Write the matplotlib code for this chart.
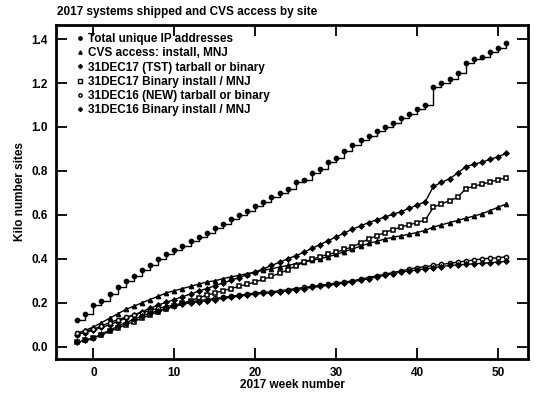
# 2017 systems shipped and CVS access by site
import numpy as np
import matplotlib.pyplot as plt
from matplotlib.lines import Line2D

plt.rcParams['font.family'] = ['Liberation Sans', 'DejaVu Sans']
plt.rcParams['font.weight'] = 'bold'

# Week numbers (-2 .. 51)
weeks = list(range(-2, 52))

# Values (kilo sites)
total_ip = [0.12, 0.15, 0.19, 0.21, 0.24, 0.27, 0.30, 0.32, 0.35, 0.37,
            0.40, 0.42, 0.44, 0.46, 0.48, 0.50, 0.52, 0.54, 0.56, 0.58,
            0.60, 0.62, 0.64, 0.66, 0.68, 0.70, 0.72, 0.75, 0.76, 0.79,
            0.81, 0.84, 0.86, 0.89, 0.92, 0.94, 0.96, 0.98, 1.00, 1.02,
            1.04, 1.06, 1.08, 1.10, 1.18, 1.20, 1.22, 1.245, 1.29, 1.31,
            1.32, 1.34, 1.36, 1.38]
cvs_access = [0.06, 0.075, 0.09, 0.11, 0.13, 0.15, 0.17, 0.185, 0.20, 0.215,
              0.23, 0.245, 0.255, 0.265, 0.275, 0.285, 0.295, 0.30, 0.31, 0.318,
              0.325, 0.333, 0.34, 0.348, 0.355, 0.363, 0.37, 0.378, 0.385, 0.393,
              0.40, 0.41, 0.42, 0.433, 0.445, 0.458, 0.47, 0.48, 0.49, 0.498,
              0.505, 0.512, 0.52, 0.53, 0.545, 0.555, 0.565, 0.575, 0.585, 0.595,
              0.605, 0.62, 0.635, 0.65]
tst_17 = [0.055, 0.065, 0.075, 0.088, 0.10, 0.115, 0.13, 0.145, 0.16, 0.175,
          0.19, 0.203, 0.215, 0.228, 0.24, 0.253, 0.265, 0.278, 0.29, 0.303,
          0.315, 0.328, 0.34, 0.355, 0.37, 0.385, 0.40, 0.415, 0.43, 0.448,
          0.465, 0.483, 0.50, 0.518, 0.535, 0.55, 0.565, 0.578, 0.59, 0.603,
          0.615, 0.63, 0.645, 0.66, 0.73, 0.748, 0.765, 0.79, 0.82, 0.83,
          0.84, 0.853, 0.865, 0.88]
bin_17 = [0.02, 0.03, 0.04, 0.055, 0.07, 0.085, 0.10, 0.115, 0.13, 0.145,
          0.16, 0.173, 0.185, 0.198, 0.21, 0.223, 0.235, 0.245, 0.255, 0.265,
          0.275, 0.285, 0.295, 0.308, 0.32, 0.335, 0.35, 0.368, 0.385, 0.398,
          0.41, 0.42, 0.43, 0.443, 0.455, 0.473, 0.49, 0.505, 0.52, 0.533,
          0.545, 0.555, 0.565, 0.577, 0.635, 0.65, 0.665, 0.68, 0.72, 0.73,
          0.74, 0.75, 0.76, 0.77]
new_16 = [0.065, 0.072, 0.08, 0.095, 0.11, 0.123, 0.135, 0.145, 0.155, 0.165,
          0.175, 0.183, 0.19, 0.198, 0.205, 0.21, 0.215, 0.22, 0.225, 0.23,
          0.235, 0.24, 0.245, 0.248, 0.25, 0.255, 0.26, 0.265, 0.27, 0.275,
          0.28, 0.285, 0.29, 0.295, 0.30, 0.308, 0.315, 0.323, 0.33, 0.338,
          0.345, 0.353, 0.36, 0.365, 0.37, 0.375, 0.38, 0.385, 0.39, 0.395,
          0.40, 0.403, 0.405, 0.41]
bin_16 = [0.02, 0.03, 0.04, 0.058, 0.075, 0.093, 0.11, 0.125, 0.14, 0.153,
          0.165, 0.175, 0.185, 0.193, 0.20, 0.205, 0.21, 0.215, 0.22, 0.225,
          0.23, 0.235, 0.24, 0.243, 0.245, 0.25, 0.255, 0.26, 0.265, 0.27,
          0.275, 0.28, 0.285, 0.29, 0.295, 0.303, 0.31, 0.318, 0.325, 0.333,
          0.34, 0.345, 0.35, 0.355, 0.36, 0.365, 0.37, 0.373, 0.375, 0.378,
          0.38, 0.383, 0.385, 0.39]

labels = ['Total unique IP addresses', 'CVS access: install, MNJ',
          '31DEC17 (TST) tarball or binary', '31DEC17 Binary install / MNJ',
          '31DEC16 (NEW) tarball or binary', '31DEC16 Binary install / MNJ']
series = [total_ip, cvs_access, tst_17, bin_17, new_16, bin_16]
markers = ['o', '^', 'D', 's', 'o', 'D']
faces = ['black', 'black', 'black', 'white', 'white', 'black']

fig = plt.figure(figsize = (5.4, 3.97), dpi = 100)
ax = fig.add_axes([0.104, 0.096, 0.874, 0.841])

ms = 3.0
handles = []
for i in range(len(series)):
    size = ms - 0.5 if markers[i] == 'D' else ms
    style = 'steps-post' if i == 0 else 'default'
    ax.plot(weeks, series[i], color = 'black', lw = 1, marker = markers[i], ms = size,
            mfc = faces[i], mew = 1.1, drawstyle = style)
    handles.append(Line2D([], [], ls = 'none', color = 'black', marker = markers[i],
                          ms = size * 0.8, mfc = faces[i], mew = 1.0))

ax.set_xlim(-4.6, 53.7)
ax.set_ylim(-0.055, 1.464)
ax.set_xticks([0, 10, 20, 30, 40, 50])
ax.set_yticks(np.arange(0, 1.41, 0.2))
ax.set_yticklabels(['%.1f' % v for v in np.arange(0, 1.41, 0.2)])

for s in ax.spines.values():
    s.set_linewidth(2)
ax.tick_params(direction = 'in', length = 8, width = 1.3, top = True, right = True,
               labelsize = 8.5, pad = 6)

ax.set_xlabel('2017 week number', fontsize = 8.5, fontweight = 'bold', labelpad = 0)
ax.set_ylabel('Kilo number sites', fontsize = 8.5, fontweight = 'bold', labelpad = 4)
fig.text(0.106, 0.955, '2017 systems shipped and CVS access by site',
         fontsize = 8.5, fontweight = 'bold', ha = 'left', va = 'bottom')

ax.legend(handles, labels, loc = 'upper left', frameon = False, fontsize = 8.5,
          handlelength = 0.6, handletextpad = 0.4, labelspacing = 0.18,
          bbox_to_anchor = (0.025, 1.0), borderaxespad = 0.3, borderpad = 0.4)

fig.savefig('out.png', dpi = 100)
